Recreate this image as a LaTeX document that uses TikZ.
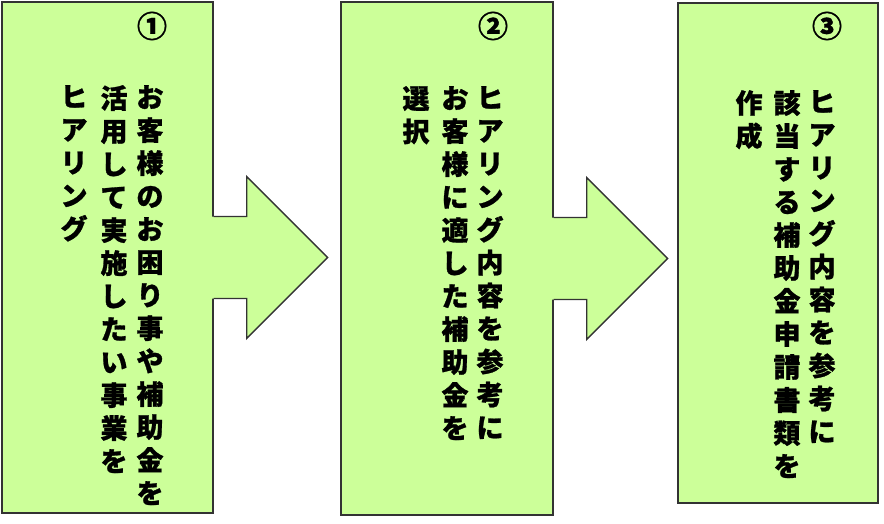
\documentclass[tikz,border=0pt]{standalone}
\usepackage{fontspec}
\newfontfamily\cjk[BoldFeatures={FakeBold=1}]{Noto Sans CJK JP}
\usetikzlibrary{calc}
\definecolor{leaf}{HTML}{CCFF99}
\tikzset{
	panel/.style={draw=black!80, line width=1.4pt, fill=leaf, inner sep=0pt},
	tate/.style={anchor=north, inner sep=0pt, align=center, font=\cjk\bfseries\fontsize{27}{33}\selectfont},
	num/.style={inner sep=0pt, font=\cjk\bfseries\fontsize{30}{30}\selectfont}
}
\def\blockarrow(#1){
	\fill[leaf] ($(#1)+(-3,-41)$) -- ($(#1)+(33,-41)$) -- ($(#1)+(33,-81)$) -- ($(#1)+(114,0)$) -- ($(#1)+(33,81)$) -- ($(#1)+(33,41)$) -- ($(#1)+(-3,41)$) -- cycle;
	\draw[line width=1.4pt, color=black!80, line join=miter] ($(#1)+(0,-41)$) -- ($(#1)+(33,-41)$) -- ($(#1)+(33,-81)$) -- ($(#1)+(114,0)$) -- ($(#1)+(33,81)$) -- ($(#1)+(33,41)$) -- ($(#1)+(0,41)$);
}

\begin{document}
\begin{tikzpicture}[x=1pt, y=-1pt]
	\useasboundingbox (0, 0) rectangle (884, 524);
	
	%%%%% PANELS %%%%%
	\node[panel, minimum width=211pt, minimum height=511pt] (step1) at (107.5, 257.5) {};
	\node[panel, minimum width=212pt, minimum height=513pt] (step2) at (447, 258.5) {};
	\node[panel, minimum width=200pt, minimum height=500pt] (step3) at (778, 253) {};
	
	%%%%% ARROWS %%%%%
	\blockarrow(step1.east);
	\blockarrow(step2.east);
	
	%%%%% STEP 1 %%%%%
	\node[num] (n1) at (152, 26) {①};
	\node[tate] (s1a) at (150, 85) {お\\客\\様\\の\\お\\困\\り\\事\\や\\補\\助\\金\\を};
	\node[tate] (s1b) at (114, 85) {活\\用\\し\\て\\実\\施\\し\\た\\い\\事\\業\\を};
	\node[tate] (s1c) at (74, 85) {ヒ\\ア\\リ\\ン\\グ};
	
	%%%%% STEP 2 %%%%%
	\node[num] (n2) at (493, 26) {②};
	\node[tate] (s2a) at (490, 86) {ヒ\\ア\\リ\\ン\\グ\\内\\容\\を\\参\\考\\に};
	\node[tate] (s2b) at (455, 86) {お\\客\\様\\に\\適\\し\\た\\補\\助\\金\\を};
	\node[tate] (s2c) at (416, 86) {選\\択};
	
	%%%%% STEP 3 %%%%%
	\node[num] (n3) at (827, 26) {③};
	\node[tate] (s3a) at (822, 90) {ヒ\\ア\\リ\\ン\\グ\\内\\容\\を\\参\\考\\に};
	\node[tate] (s3b) at (787, 90) {該\\当\\す\\る\\補\\助\\金\\申\\請\\書\\類\\を};
	\node[tate] (s3c) at (749, 90) {作\\成};
	
\end{tikzpicture}
\end{document}
